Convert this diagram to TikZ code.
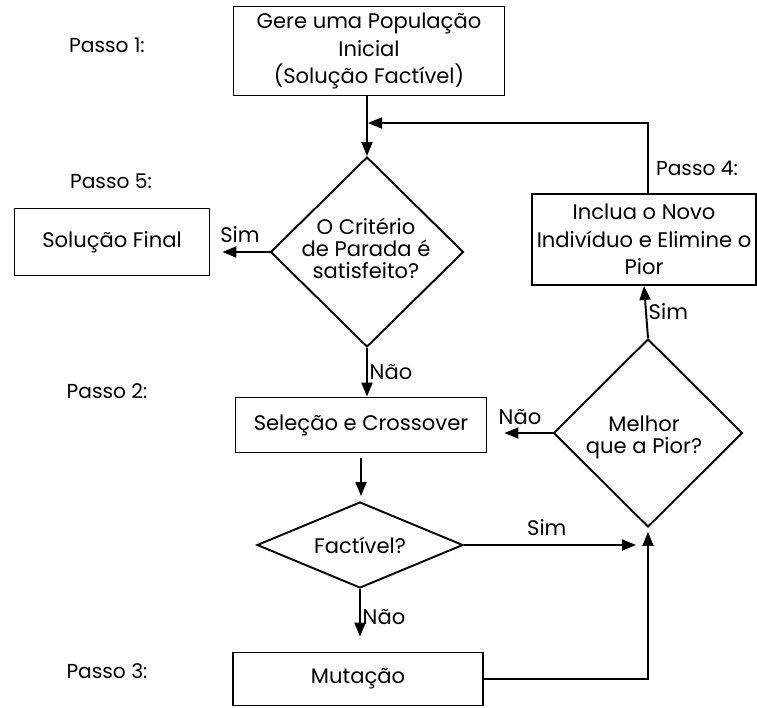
\documentclass[tikz,border=0pt]{standalone}
\usepackage{fontspec}
\setmainfont{Poppins}
\usetikzlibrary{arrows.meta,shapes.geometric,positioning,calc}

\begin{document}
\begin{tikzpicture}[
				x=0.02cm,y=-0.02cm,
				box/.style={draw,rectangle,line width=1.1pt,align=center,inner sep=0pt,font=\fontsize{12pt}{15.5pt}\selectfont},
				dia/.style={draw,diamond,line width=1.1pt,inner sep=0pt},
				diatext/.style={align=center,font=\fontsize{12pt}{12.5pt}\selectfont},
				arr/.style={-{Triangle[length=0.28cm,width=0.22cm]},line width=1.1pt},
				lbl/.style={font=\fontsize{12pt}{13pt}\selectfont,inner sep=1pt},
				passo/.style={font=\fontsize{11.5pt}{12pt}\selectfont}
				]
				\useasboundingbox (0,0) rectangle (757,707);
				
				% Passo 1
				\node[box,minimum width=5.42cm,minimum height=1.78cm] (init) at (369,51) {Gere uma População\\Inicial\\(Solução Factível)};
				\node[passo] (p1) at (107,45) {Passo 1:};
				
				% Passo 5
				\node[dia,minimum width=3.86cm,minimum height=3.8cm] (crit) at (367,252) {};
				\node[diatext] at (366,248) {O Critério\\de Parada é\\satisfeito?};
				\node[box,minimum width=3.9cm,minimum height=1.34cm] (sol) at (112,242) {Solução Final};
				\node[passo] (p5) at (111,181) {Passo 5:};
				
				% Passo 2
				\node[box,minimum width=5.02cm,minimum height=1.1cm] (sel) at (361,425) {Seleção e Crossover};
				\node[passo] (p2) at (107,391) {Passo 2:};
				\node[dia,minimum width=4.12cm,minimum height=1.72cm] (fac) at (360,545) {};
				\node[diatext] at (fac.center) {Factível?};
				
				% Passo 3
				\node[box,minimum width=5.0cm,minimum height=1.06cm] (mut) at (358,679) {Mutação};
				\node[passo] (p3) at (107,671) {Passo 3:};
				
				% Passo 4
				\node[dia,minimum width=3.78cm,minimum height=3.76cm] (mel) at (648,433) {};
				\node[diatext] at (644,437) {Melhor\\que a Pior?};
				\node[box,minimum width=4.48cm,minimum height=1.82cm] (incl) at (644,239.5) {Inclua o Novo\\Indivíduo e Elimine o\\Pior};
				\node[passo] (p4) at (697,168) {Passo 4:};
				
				% Conexoes
				\coordinate (join) at (368,123);
				\draw[arr] (init.south -| crit.north) -- (crit.north);
				\draw[arr] (mel.north |- incl.north) |- (join);
				\draw[arr,shorten >=0.24cm] (crit.west) -- (crit.west -| sol.east) node[lbl,midway,above=4pt] {Sim};
				\draw[arr] (crit.south) -- (crit.south |- sel.north) node[lbl,midway,right] {Não};
				\draw[arr,shorten <=0.1cm,shorten >=0.1cm] (sel.south) -- (sel.south |- fac.north);
				\draw[arr,shorten >=0.24cm] (fac.east) -- (fac.east -| mel.south) node[lbl,pos=0.45,above=4pt] {Sim};
				\draw[arr,shorten >=0.3cm] (fac.south) -- (fac.south |- mut.north) node[lbl,pos=0.45,right] {Não};
				\draw[arr,shorten >=0.08cm] (mut.east) -| (mel.south);
				\draw[arr,shorten >=0.34cm] (mel.west) -- (mel.west -| sel.east) node[lbl,midway,above=3pt] {Não};
				\draw[arr] (mel.north) -- (incl.south) node[lbl,midway,right] {Sim};
				
\end{tikzpicture}
\end{document}
